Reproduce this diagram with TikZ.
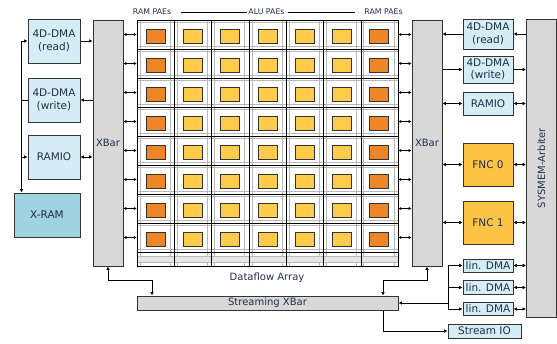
\documentclass[tikz,border=0pt]{standalone}
\usepackage{fontspec}
\setmainfont{DejaVu Sans}
\usetikzlibrary{arrows.meta,calc}
\definecolor{ink}{HTML}{232E48}
\definecolor{edge}{HTML}{333333}
\definecolor{pale}{HTML}{D5EDF4}
\definecolor{xramc}{HTML}{9FD3DF}
\definecolor{fncc}{HTML}{FBC444}
\definecolor{ramc}{HTML}{EE8627}
\definecolor{aluc}{HTML}{FECB4B}
\definecolor{barc}{HTML}{D8D8D8}
\definecolor{route}{HTML}{B8B8B8}

\begin{document}
\begin{tikzpicture}[x=1pt,y=-1pt,>={Latex[length=3.4pt,width=3.6pt]},line width=.9pt,every node/.style={font=\fontsize{10}{12}\selectfont,text=ink,inner sep=0pt},box/.style={draw=edge,fill=pale,align=center,line width=1pt,font=\fontsize{10.5}{12.5}\selectfont},bar/.style={draw=edge,fill=barc,line width=1pt},cell/.style={draw=black,line width=.6pt,minimum width=37.3,minimum height=29},pae/.style={draw=edge,line width=1pt,minimum width=19,minimum height=14},tag/.style={font=\fontsize{7.8}{9}\selectfont,text=ink}]
\path[use as bounding box] (0,0) rectangle (557,343);

% left side
\node[box,minimum width=52,minimum height=44] (dmar) at (54,41) {4D-DMA\\(read)};
\node[box,minimum width=52,minimum height=44] (dmaw) at (54,100) {4D-DMA\\(write)};
\node[box,minimum width=52,minimum height=44] (ramiol) at (54,157) {RAMIO};
\node[box,fill=xramc,minimum width=66,minimum height=44] (xram) at (47,215) {X-RAM};
\node[bar,minimum width=30,minimum height=246] (xbl) at (108,143) {XBar};
\node[bar,minimum width=30,minimum height=246] (xbr) at (427,143) {XBar};

% dataflow array
\foreach \c/\col in {1/ramc,2/aluc,3/aluc,4/aluc,5/aluc,6/aluc,7/ramc} {
  \pgfmathsetmacro\cx{137+(\c-.5)*37.3}
  \draw[route] (\cx-15.6,20) -- (\cx-15.6,266);
  \draw[route] (\cx+14.6,20) -- (\cx+14.6,266);
  \foreach \r in {1,...,8} {
    \pgfmathsetmacro\cy{20+(\r-.5)*29}
    \draw[route] (\cx-18.6,\cy-12) -- (\cx+18.6,\cy-12);
    \draw[route] (\cx-18.6,\cy+11.5) -- (\cx+18.6,\cy+11.5);
    \node[cell] (cell-\c-\r) at (\cx,\cy) {};
    \node[pae,fill=\col] at (\cx,\cy+1.5) {};
  }
  \fill[route!35] (\cx-18.6,256) rectangle (\cx+18.6,262);
  \draw[route] (\cx-18.6,256) -- (\cx+18.6,256) (\cx-18.6,262) -- (\cx+18.6,262);
  \node[cell,minimum height=14] (foot-\c) at (\cx,259) {};
}
\foreach \r in {1,...,8} {
  \draw[<->,>={Latex[length=2.8pt,width=3.2pt]}] (cell-1-\r.west -| xbl.east) -- (cell-1-\r.west);
  \draw[<->,>={Latex[length=2.8pt,width=3.2pt]}] (cell-7-\r.east) -- (cell-7-\r.east -| xbr.west);
}
\node[tag] (raml) at (152,12) {RAM PAEs};
\node[tag] (alu) at (266.5,12) {ALU PAEs};
\node[tag] (ramr) at (383.5,12) {RAM PAEs};
\draw[shorten <=9pt,shorten >=1pt] (raml) -- (alu);
\draw[shorten <=3pt,shorten >=9pt] (alu) -- (ramr);
\node (dfa) at (267,278) {Dataflow Array};
\node[bar,minimum width=261,minimum height=14] (sxbar) at (267.5,303) {Streaming XBar};

% right side
\node[box,minimum width=50,minimum height=30] (rdmar) at (488,34) {4D-DMA\\(read)};
\node[box,minimum width=50,minimum height=27] (rdmaw) at (488,69.5) {4D-DMA\\(write)};
\node[box,minimum width=50,minimum height=23] (ramior) at (488,103.5) {RAMIO};
\node[box,fill=fncc,minimum width=50,minimum height=43] (fnc0) at (488,164.5) {FNC 0};
\node[box,fill=fncc,minimum width=50,minimum height=43] (fnc1) at (488,222.5) {FNC 1};
\node[box,minimum width=50,minimum height=13] (lin1) at (488,265.5) {lin. DMA};
\node[box,minimum width=50,minimum height=14] (lin2) at (488,287.5) {lin. DMA};
\node[box,minimum width=50,minimum height=13] (lin3) at (488,309) {lin. DMA};
\node[box,minimum width=73,minimum height=14] (sio) at (484.5,331) {Stream IO};
\node[bar,minimum width=30,minimum height=298] (arb) at (541.5,168) {};
\node[rotate=90] (arbtxt) at (arb.center) {SYSMEM-Arbiter};

% connectors left
\coordinate (lbus) at (21.5,100);
\draw (dmaw.west) -- (lbus);
\draw[->] (lbus) |- (dmar.west);
\draw[->] (lbus) |- (ramiol.west);
\draw[->] (lbus) -- (lbus |- xram.north);
\draw[->] (dmar.east) -- (dmar.east -| xbl.west);
\draw[->] (dmaw.east -| xbl.west) -- (dmaw.east);
\draw[<->] (ramiol.east) -- (ramiol.east -| xbl.west);

% connectors right
\draw[->] (rdmar.west) -- (rdmar.west -| xbr.east);
\draw[->] (rdmar.east -| arb.west) -- (rdmar.east);
\draw[->] (rdmaw.west -| xbr.east) -- (rdmaw.west);
\draw[->] (rdmaw.east) -- (rdmaw.east -| arb.west);
\foreach \n in {ramior,fnc0,fnc1} {
  \draw[<->] (\n.west -| xbr.east) -- (\n.west);
  \draw[<->] (\n.east) -- (\n.east -| arb.west);
}
\coordinate (linbus) at (448,303);
\draw[->] (linbus) -- (sxbar.east);
\foreach \n in {lin1,lin2,lin3} {
  \draw[->] (linbus) |- (\n.west);
  \draw[<->] (\n.east) -- (\n.east -| arb.west);
}

% streaming xbar
\coordinate (ljoin) at (152,280);
\coordinate (rjoin) at (383,280);
\draw[<->] (xbl.south) |- (ljoin) -- (ljoin |- sxbar.north);
\draw[<->] (xbr.south) |- (rjoin) -- (rjoin |- sxbar.north);
\draw[->] (rjoin |- sxbar.south) |- (sio.west);

\end{tikzpicture}
\end{document}
